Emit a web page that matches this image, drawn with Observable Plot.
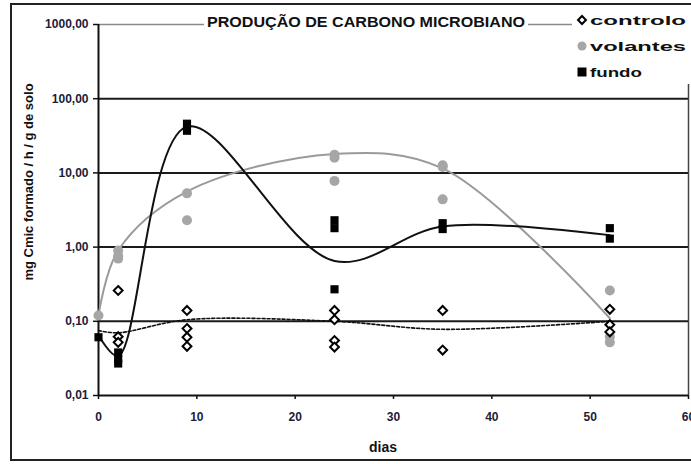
<!DOCTYPE html>
<html><head><meta charset="utf-8">
<script src="https://cdn.jsdelivr.net/npm/d3@7"></script>
<script src="https://cdn.jsdelivr.net/npm/@observablehq/plot@0.6"></script>
<style>
body{margin:0;background:#fff}
#chart{position:relative;width:691px;height:464px;overflow:hidden}
svg{font-family:"Liberation Sans",Arial,sans-serif}
</style>
</head><body><div id="chart"></div>
<script>
// sampling days of the smoothed trend curves
const curveDays = [0, 2, 9, 24, 35, 52];
// controlo (open diamonds)
const controloDays   = [2, 2, 2, 9, 9, 9, 9, 24, 24, 24, 24, 35, 35, 52, 52, 52];
const controloValues = [0.26, 0.062, 0.052, 0.14, 0.08, 0.061, 0.046, 0.14, 0.105, 0.055, 0.045, 0.14, 0.041, 0.145, 0.09, 0.072];
// volantes (grey circles)
const volantesDays   = [0, 2, 2, 2, 9, 9, 24, 24, 24, 35, 35, 35, 52, 52, 52];
const volantesValues = [0.12, 0.9, 0.76, 0.7, 5.3, 2.3, 17.5, 16, 7.8, 12.7, 12, 4.4, 0.26, 0.062, 0.052];
// fundo (black squares)
const fundoDays   = [0, 2, 2, 2, 9, 9, 24, 24, 24, 35, 35, 52, 52];
const fundoValues = [0.061, 0.038, 0.031, 0.027, 46, 37, 2.3, 1.8, 0.27, 2.1, 1.75, 1.8, 1.3];
// smoothed trend lines as drawn
const controloCurve = [0.075, 0.07, 0.105, 0.1, 0.078, 0.1];
const volantesCurve = [0.12, 0.9, 5.6, 18, 11.5, 0.11];
const fundoCurve    = [0.065, 0.034, 42, 0.65, 1.9, 1.45];
// axes
const yTicks = [0.01, 0.1, 1, 10, 100, 1000];
const xTicks = [0, 10, 20, 30, 40, 50, 60];
const gridValues = [0.1, 1, 10, 100];
const titleText = "PRODUÇÃO DE CARBONO MICROBIANO";
const yLabel = "mg Cmic formado / h / g de solo";
const xLabel = "dias";
const legendNames = ["controlo", "volantes", "fundo"];

const pts = (xs, ys) => xs.map((d, i) => ({x: d, y: ys[i]}));
const fmt = d => d3.format(".2f")(d).replace(".", ",");

const plot = Plot.plot({
  width: 691, height: 464,
  marginLeft: 98, marginRight: 3, marginTop: 24, marginBottom: 69,
  style: {fontFamily: "Liberation Sans, Arial, sans-serif", fontSize: "12px", fontWeight: "bold", color: "#111", background: "transparent"},
  x: {domain: [0, 60]},
  y: {type: "log", domain: [0.01, 1000]},
  marks: [
    Plot.ruleY(gridValues, {stroke: "#1a1a1a", strokeWidth: 2}),
    Plot.ruleY([1000], {stroke: "#8a8a8a", strokeWidth: 1.5}),
    Plot.ruleX([60], {stroke: "#444", strokeWidth: 1.5}),
    Plot.axisY({ticks: yTicks, tickFormat: fmt, tickSize: 5, tickPadding: 5, label: null, stroke: "#111", strokeWidth: 1.5, fontSize: 12, fill: "#1c1c3a"}),
    Plot.axisX({ticks: xTicks, tickSize: 4, tickPadding: 13, label: null, stroke: "#111", strokeWidth: 1.5, fontSize: 12, fill: "#1c1c3a"}),
    Plot.ruleX([0], {stroke: "#111", strokeWidth: 2}),
    Plot.ruleY([0.01], {stroke: "#111", strokeWidth: 2}),
    Plot.line(pts(curveDays, controloCurve), {x: "x", y: "y", curve: "catmull-rom", stroke: "#111", strokeWidth: 1.6, strokeDasharray: "3,2"}),
    Plot.line(pts(curveDays, volantesCurve), {x: "x", y: "y", curve: "catmull-rom", stroke: "#9a9a9a", strokeWidth: 2}),
    Plot.line(pts(curveDays, fundoCurve), {x: "x", y: "y", curve: "catmull-rom", stroke: "#111", strokeWidth: 2}),
    Plot.dot(pts(volantesDays, volantesValues), {x: "x", y: "y", r: 5, fill: "#a6a6a6", stroke: "none"}),
    Plot.dot(pts(fundoDays, fundoValues), {x: "x", y: "y", symbol: "square", r: 4.6, fill: "#000", stroke: "none"}),
    Plot.dot(pts(controloDays, controloValues), {x: "x", y: "y", symbol: "diamond2", r: 4, fill: "#fff", stroke: "#000", strokeWidth: 2})
  ]
});
document.getElementById("chart").appendChild(plot);

const svg = d3.select(plot);
// outer chart frame
svg.append("rect").attr("x", 11).attr("y", 4).attr("width", 700).attr("height", 456)
  .attr("fill", "none").attr("stroke", "#222").attr("stroke-width", 2);
// title on the top border
const tx = 366;
svg.append("rect").attr("x", tx - 162).attr("y", 13).attr("width", 324).attr("height", 17).attr("fill", "#fff");
svg.append("text").attr("x", tx).attr("y", 27).attr("text-anchor", "middle")
  .attr("font-size", 15).attr("font-weight", "bold").attr("fill", "#111")
  .attr("textLength", 318).attr("lengthAdjust", "spacingAndGlyphs").text(titleText);
// legend
const lg = svg.append("g");
lg.append("rect").attr("x", 572).attr("y", 8).attr("width", 119).attr("height", 76).attr("fill", "#fff");
const lx = 582, ly = [20, 46, 72];
lg.append("path").attr("d", d3.symbol(d3.symbolDiamond2, 40)()).attr("transform", `translate(${lx},${ly[0]})`)
  .attr("fill", "#fff").attr("stroke", "#000").attr("stroke-width", 2);
lg.append("circle").attr("cx", lx).attr("cy", ly[1]).attr("r", 4.5).attr("fill", "#a6a6a6");
lg.append("rect").attr("x", lx - 4.5).attr("y", ly[2] - 4.5).attr("width", 9).attr("height", 9).attr("fill", "#000");
const legendWidths = [96, 96, 52];
legendNames.forEach((n, i) => {
  lg.append("text").attr("x", lx + 8).attr("y", ly[i] + 4.5).attr("text-anchor", "start")
    .attr("font-size", 13).attr("font-weight", "bold").attr("fill", "#111")
    .attr("textLength", legendWidths[i]).attr("lengthAdjust", "spacingAndGlyphs").text(n);
});
// axis titles
svg.append("text").attr("transform", "translate(33,182) rotate(-90)").attr("text-anchor", "middle")
  .attr("font-size", 13).attr("font-weight", "bold").attr("fill", "#111").text(yLabel);
svg.append("text").attr("x", 383).attr("y", 452).attr("text-anchor", "middle")
  .attr("font-size", 14).attr("font-weight", "bold").attr("fill", "#111").text(xLabel);
</script>
</body></html>
